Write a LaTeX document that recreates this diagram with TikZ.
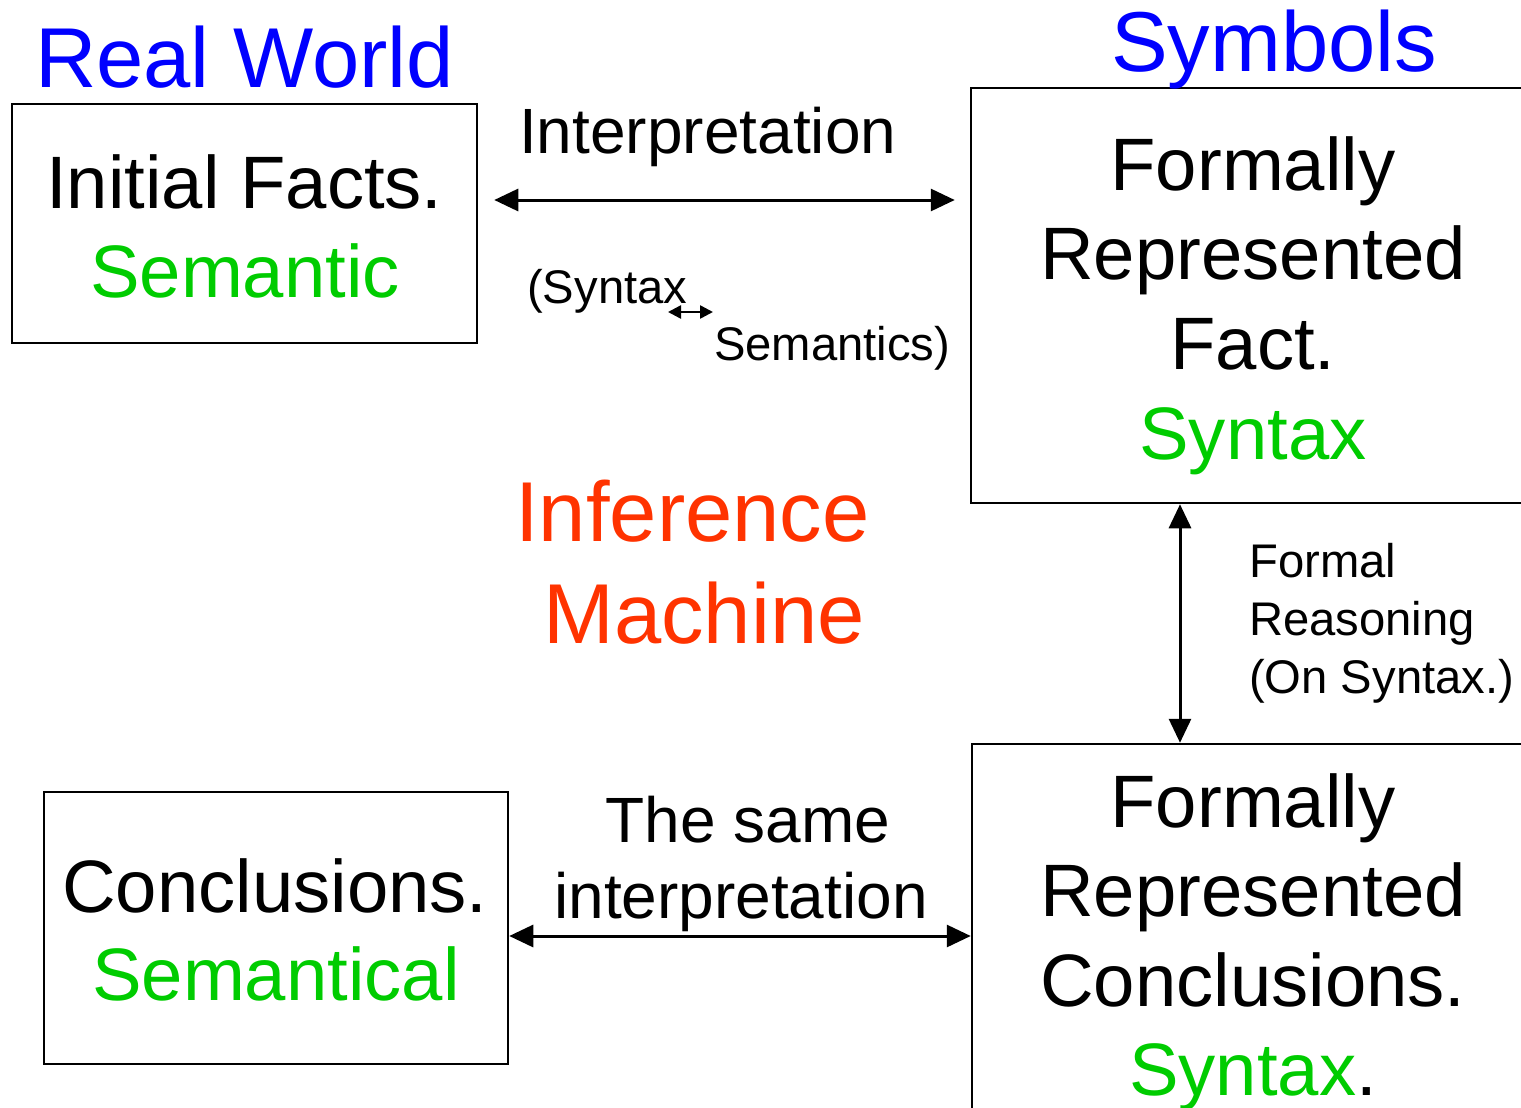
\documentclass[tikz,border=0pt]{standalone}
\usepackage{fontspec}
\setmainfont{Liberation Sans}
\usetikzlibrary{arrows.meta}
\definecolor{tblue}{HTML}{0000FF}
\definecolor{tgreen}{HTML}{00CC00}
\definecolor{tred}{HTML}{FF3300}
\begin{document}
\begin{tikzpicture}[x=1pt,y=-1pt,
  box/.style={draw, line width=2.5pt, inner sep=0pt},
  lbl/.style={inner sep=0pt, anchor=base},
  lblw/.style={inner sep=0pt, anchor=base west},
  fbig/.style={font=\fontsize{85}{85}\selectfont},
  fbox/.style={font=\fontsize{74.3}{74}\selectfont},
  fmid/.style={font=\fontsize{64}{64}\selectfont},
  fsmall/.style={font=\fontsize{47.2}{47}\selectfont},
  arr/.style={line width=3pt, {Triangle[length=24pt,width=22pt]}-{Triangle[length=24pt,width=22pt]}},
  sarr/.style={line width=2.5pt, {Triangle[length=13pt,width=13pt]}-{Triangle[length=13pt,width=13pt]}}]
\useasboundingbox (0,0) rectangle (1521,1108);
\clip (0,0) rectangle (1521,1108);
\fill[white] (0,0) rectangle (1521,1108);

% boxes
\node[box, minimum width=465pt, minimum height=239pt] (b1) at (244.5,223.5) {};
\node[box, minimum width=729pt, minimum height=415pt] (b2) at (1335.5,295.5) {};
\node[box, minimum width=464pt, minimum height=272pt] (b3) at (276,928) {};
\node[box, minimum width=728pt, minimum height=556pt] (b4) at (1336,1022) {};

% headings
\node[lbl, fbig, text=tblue] (rw) at (244.5,88) {Real World};
\node[lbl, fbig, text=tblue] (sy) at (1274,72) {Symbols};

% box 1
\node[lbl, fbox] (if) at (244.5,208) {Initial Facts.};
\node[lbl, fbox, text=tgreen] (sm) at (245,297) {Semantic};

% box 2
\node[lbl, fbox] (f1) at (1253,190) {Formally};
\node[lbl, fbox] (r1) at (1253,279) {Represented};
\node[lbl, fbox] (fa) at (1253,369) {Fact.};
\node[lbl, fbox, text=tgreen] (s1) at (1253,459) {Syntax};

% box 3
\node[lbl, fbox] (co) at (275,912) {Conclusions.};
\node[lbl, fbox, text=tgreen] (sl) at (276,1000) {Semantical};

% box 4
\node[lbl, fbox] (f2) at (1253,827) {Formally};
\node[lbl, fbox] (r2) at (1253,916) {Represented};
\node[lbl, fbox] (c2) at (1253,1006) {Conclusions.};
\node[lbl, fbox] (s2) at (1253,1095) {\textcolor{tgreen}{Syntax}.};

% middle labels
\node[lblw, fmid] (ip) at (519,153) {Interpretation};
\node[lblw, fsmall] (syn) at (527,303) {(Syntax};
\node[lblw, fsmall] (sem) at (714,360) {Semantics)};
\node[lbl, fbig, text=tred] (inf) at (692.5,541) {Inference};
\node[lbl, fbig, text=tred] (mac) at (704,643) {Machine};
\node[lblw, fsmall] (fo) at (1249,577) {Formal};
\node[lblw, fsmall] (re) at (1249,635) {Reasoning};
\node[lblw, fsmall] (on) at (1249,693) {(On Syntax.)};
\node[lbl, fmid] (ts) at (748,842) {The same};
\node[lbl, fmid] (it) at (741,918) {interpretation};

% connectors
\coordinate (ty) at (0,200);
\coordinate (vx) at (1180,0);
\coordinate (by) at (0,936);
\coordinate (sa) at (668,312);
\draw[arr, shorten <=16pt, shorten >=15pt] (b1.east |- ty) -- (b2.west |- ty);
\draw[arr] (b2.south -| vx) -- (b4.north -| vx);
\draw[arr] (b3.east |- by) -- (b4.west |- by);
\draw[sarr, shorten >=1pt] (sa) -- (sem.west |- sa);
\end{tikzpicture}
\end{document}
